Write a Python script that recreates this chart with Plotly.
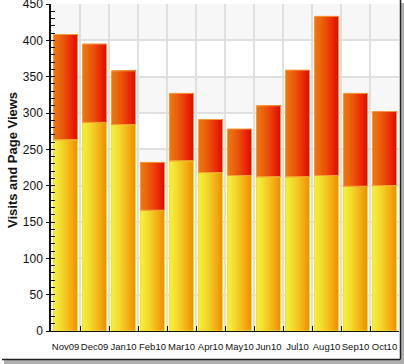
import plotly.graph_objects as go

months = ["Nov09", "Dec09", "Jan10", "Feb10", "Mar10", "Apr10",
          "May10", "Jun10", "Jul10", "Aug10", "Sep10", "Oct10"]
visits = [263, 287, 284, 166, 234, 218, 214, 212, 212, 214, 199, 200]
page_views = [145, 108, 74, 66, 93, 73, 64, 98, 147, 219, 128, 102]
y_ticks = [0, 50, 100, 150, 200, 250, 300, 350, 400, 450]

W, H = 404, 364
ML, MR, MT, MB = 51, 5, 4, 33
PW, PH = W - ML - MR, H - MT - MB


def px(x):
    return (x - ML) / PW


def py(y):
    return (H - MB - y) / PH


def lerp(c1, c2, t):
    return "rgb(%d,%d,%d)" % tuple(round(a + (b - a) * t) for a, b in zip(c1, c2))


BW = 0.83
N = 16
YEL_L, YEL_R = (243, 238, 58), (242, 142, 0)
RED_L, RED_R = (234, 118, 16), (232, 10, 0)

fig = go.Figure()
for i in range(N):
    t = (i / (N - 1)) ** 1.3
    off = -BW / 2 + i * BW / N
    wid = BW - i * BW / N
    fig.add_trace(go.Bar(x=months, y=visits, width=wid, offset=off,
                         marker=dict(color=lerp(YEL_L, YEL_R, t), line=dict(width=0)),
                         showlegend=False, hoverinfo="skip"))
    fig.add_trace(go.Bar(x=months, y=page_views, base=visits, width=wid, offset=off,
                         marker=dict(color=lerp(RED_L, RED_R, t), line=dict(width=0)),
                         showlegend=False, hoverinfo="skip"))
# outlines
fig.add_trace(go.Bar(x=months, y=visits, width=BW, offset=-BW / 2,
                     marker=dict(color="rgba(0,0,0,0)", line=dict(width=1, color="#f8e21c")),
                     name="Visits", showlegend=False))
fig.add_trace(go.Bar(x=months, y=page_views, base=visits, width=BW, offset=-BW / 2,
                     marker=dict(color="rgba(0,0,0,0)", line=dict(width=1, color="#f59a3a")),
                     name="Page Views", showlegend=False))

shapes = []
# alternating background bands
for k in range(len(y_ticks) - 1):
    if (len(y_ticks) - 2 - k) % 2 == 0:
        shapes.append(dict(type="rect", xref="paper", yref="y", x0=0, x1=1,
                           y0=y_ticks[k], y1=y_ticks[k + 1], fillcolor="#f7f7f7",
                           line=dict(width=0), layer="below"))
# frame with shadow (right and bottom)
shapes += [
    dict(type="rect", xref="paper", yref="paper", x0=px(401), x1=px(404), y0=py(364), y1=py(3),
         fillcolor="#b0b0b0", line=dict(width=0), layer="above"),
    dict(type="rect", xref="paper", yref="paper", x0=px(4), x1=px(404), y0=py(364), y1=py(360),
         fillcolor="#b0b0b0", line=dict(width=0), layer="above"),
    dict(type="line", xref="paper", yref="paper", x0=px(400.5), x1=px(400.5), y0=py(0), y1=py(359.5),
         line=dict(color="#222222", width=1.5), layer="above"),
    dict(type="line", xref="paper", yref="paper", x0=px(2), x1=px(400.5), y0=py(359.5), y1=py(359.5),
         line=dict(color="#222222", width=1.5), layer="above"),
]

fig.update_layout(
    width=W, height=H,
    margin=dict(l=ML, r=MR, t=MT, b=MB, pad=0, autoexpand=False),
    barmode="overlay",
    paper_bgcolor="white", plot_bgcolor="white",
    font=dict(family="Liberation Sans, Arial, sans-serif", color="#111111"),
    shapes=shapes,
    annotations=[dict(text="<b>Visits and Page Views</b>", xref="paper", yref="paper",
                      x=px(12), y=py(160), textangle=-90, showarrow=False,
                      font=dict(size=13, color="#111111"), xanchor="center", yanchor="middle")],
    xaxis=dict(type="category", categoryorder="array", categoryarray=months,
               tickson="boundaries", ticks="inside", ticklen=5, tickcolor="#111111",
               tickwidth=1, showgrid=True, gridcolor="#e0e0e0", gridwidth=1.5,
               showline=True, linecolor="#111111", linewidth=1, automargin=False,
               ticklabelstandoff=7, ticklabeloverflow="allow",
               tickangle=0, tickfont=dict(size=9.5, color="#111111"), range=[-0.5, 11.5]),
    yaxis=dict(range=[0, 450], tickvals=y_ticks, ticks="inside", ticklen=4, automargin=False,
               tickcolor="#111111", showgrid=True, gridcolor="#e0e0e0", gridwidth=1.5,
               showline=True, linecolor="#111111", linewidth=1.5, zeroline=False,
               tickfont=dict(size=12, color="#111111"), ticklabelstandoff=4,
               ticklabeloverflow="allow",
               minor=dict(dtick=10, ticks="inside", ticklen=4, tickcolor="#111111", showgrid=False)),
    yaxis2=dict(overlaying="y", range=[0, 450], tickvals=y_ticks, ticks="outside", ticklen=4,
                tickcolor="#111111", showticklabels=False, showgrid=False, zeroline=False,
                side="left", automargin=False),
)
fig.add_trace(go.Scatter(x=[months[0]], y=[0], yaxis="y2", mode="markers",
                         marker=dict(opacity=0), showlegend=False, hoverinfo="skip"))

fig.write_html("out.html", config={"displayModeBar": False},
               post_script="document.body.style.margin='0';document.body.style.padding='0';")
